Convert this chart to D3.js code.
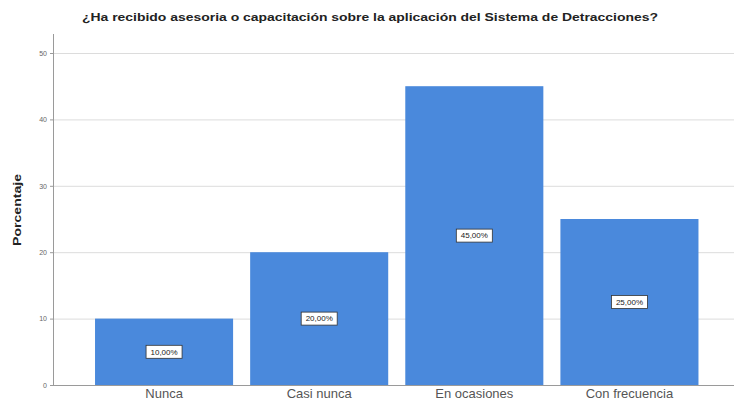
<!DOCTYPE html>
<html><head><meta charset="utf-8">
<script src="https://cdn.jsdelivr.net/npm/d3@7"></script>
<style>body{margin:0;background:#fff}svg{display:block}</style>
</head><body>
<script>
const categories = ["Nunca", "Casi nunca", "En ocasiones", "Con frecuencia"];
const values = [10, 20, 45, 25];
const valueLabels = ["10,00%", "20,00%", "45,00%", "25,00%"];
const yTicks = [0, 10, 20, 30, 40, 50];
const title = "¿Ha recibido asesoria o capacitación sobre la aplicación del Sistema de Detracciones?";
const yTitle = "Porcentaje";

const W = 734, H = 404;
const FONT = "Liberation Sans, Arial, sans-serif";
const svg = d3.select("body").append("svg").attr("width", W).attr("height", H);
const axisX = 53, plotRight = 734, plotTop = 34, plotBottom = 385;

const y = d3.scaleLinear().domain([0, 50]).range([plotBottom, 53]);
const x = d3.scaleBand().domain(categories).range([86.5, 707]).paddingInner(0.11).paddingOuter(0.055);

// gridlines
svg.append("g").selectAll("line").data(yTicks.filter(d => d > 0)).join("line")
  .attr("x1", axisX).attr("x2", plotRight)
  .attr("y1", d => y(d) + 0.5).attr("y2", d => y(d) + 0.5)
  .attr("stroke", "#dcdcdc").attr("stroke-width", 1);

// bars
svg.append("g").selectAll("rect").data(values).join("rect")
  .attr("x", (d, i) => x(categories[i]))
  .attr("width", x.bandwidth())
  .attr("y", d => y(d))
  .attr("height", d => y(0) - y(d))
  .attr("fill", "#4a89dc");

// axes lines
svg.append("line").attr("x1", axisX + 0.5).attr("x2", axisX + 0.5).attr("y1", plotTop).attr("y2", plotBottom)
  .attr("stroke", "#9a9a9a");
svg.append("line").attr("x1", axisX).attr("x2", plotRight).attr("y1", plotBottom + 0.5).attr("y2", plotBottom + 0.5)
  .attr("stroke", "#9a9a9a");

// y ticks
const yAxis = d3.axisLeft(y).tickValues(yTicks).tickSize(3).tickFormat(d3.format("d"));
const ya = svg.append("g").attr("transform", `translate(${axisX},0)`).call(yAxis);
ya.select(".domain").remove();
ya.selectAll("line").attr("stroke", "#9a9a9a");
ya.selectAll("text").attr("fill", "#666").style("font-family", FONT).style("font-size", "7px");

// x labels
const xAxis = d3.axisBottom(x).tickSize(0).tickPadding(4);
const xa = svg.append("g").attr("transform", `translate(0,${plotBottom})`).call(xAxis);
xa.select(".domain").remove();
xa.selectAll("text").attr("fill", "#555").style("font-family", FONT).style("font-size", "13px");

// value labels
const lg = svg.append("g").selectAll("g").data(values).join("g")
  .attr("transform", (d, i) => `translate(${x(categories[i]) + x.bandwidth() / 2},${(y(d) + y(0)) / 2})`);
lg.append("rect").attr("x", -18).attr("y", -6.5).attr("width", 36).attr("height", 13)
  .attr("fill", "#fff").attr("stroke", "#333").attr("stroke-width", 0.8);
lg.append("text").text((d, i) => valueLabels[i]).attr("text-anchor", "middle").attr("dy", "0.35em")
  .attr("fill", "#222").style("font-family", FONT).style("font-size", "8px");

// title
svg.append("text").attr("x", 370).attr("y", 21).attr("text-anchor", "middle").text(title)
  .attr("textLength", 576).attr("lengthAdjust", "spacingAndGlyphs")
  .style("font-family", FONT).style("font-size", "11px").style("font-weight", "bold").attr("fill", "#222");

// y title
svg.append("text").attr("transform", "translate(21,210) rotate(-90)").attr("text-anchor", "middle").text(yTitle)
  .attr("textLength", 72).attr("lengthAdjust", "spacingAndGlyphs")
  .style("font-family", FONT).style("font-size", "11.5px").style("font-weight", "bold").attr("fill", "#222");
</script>
</body></html>
